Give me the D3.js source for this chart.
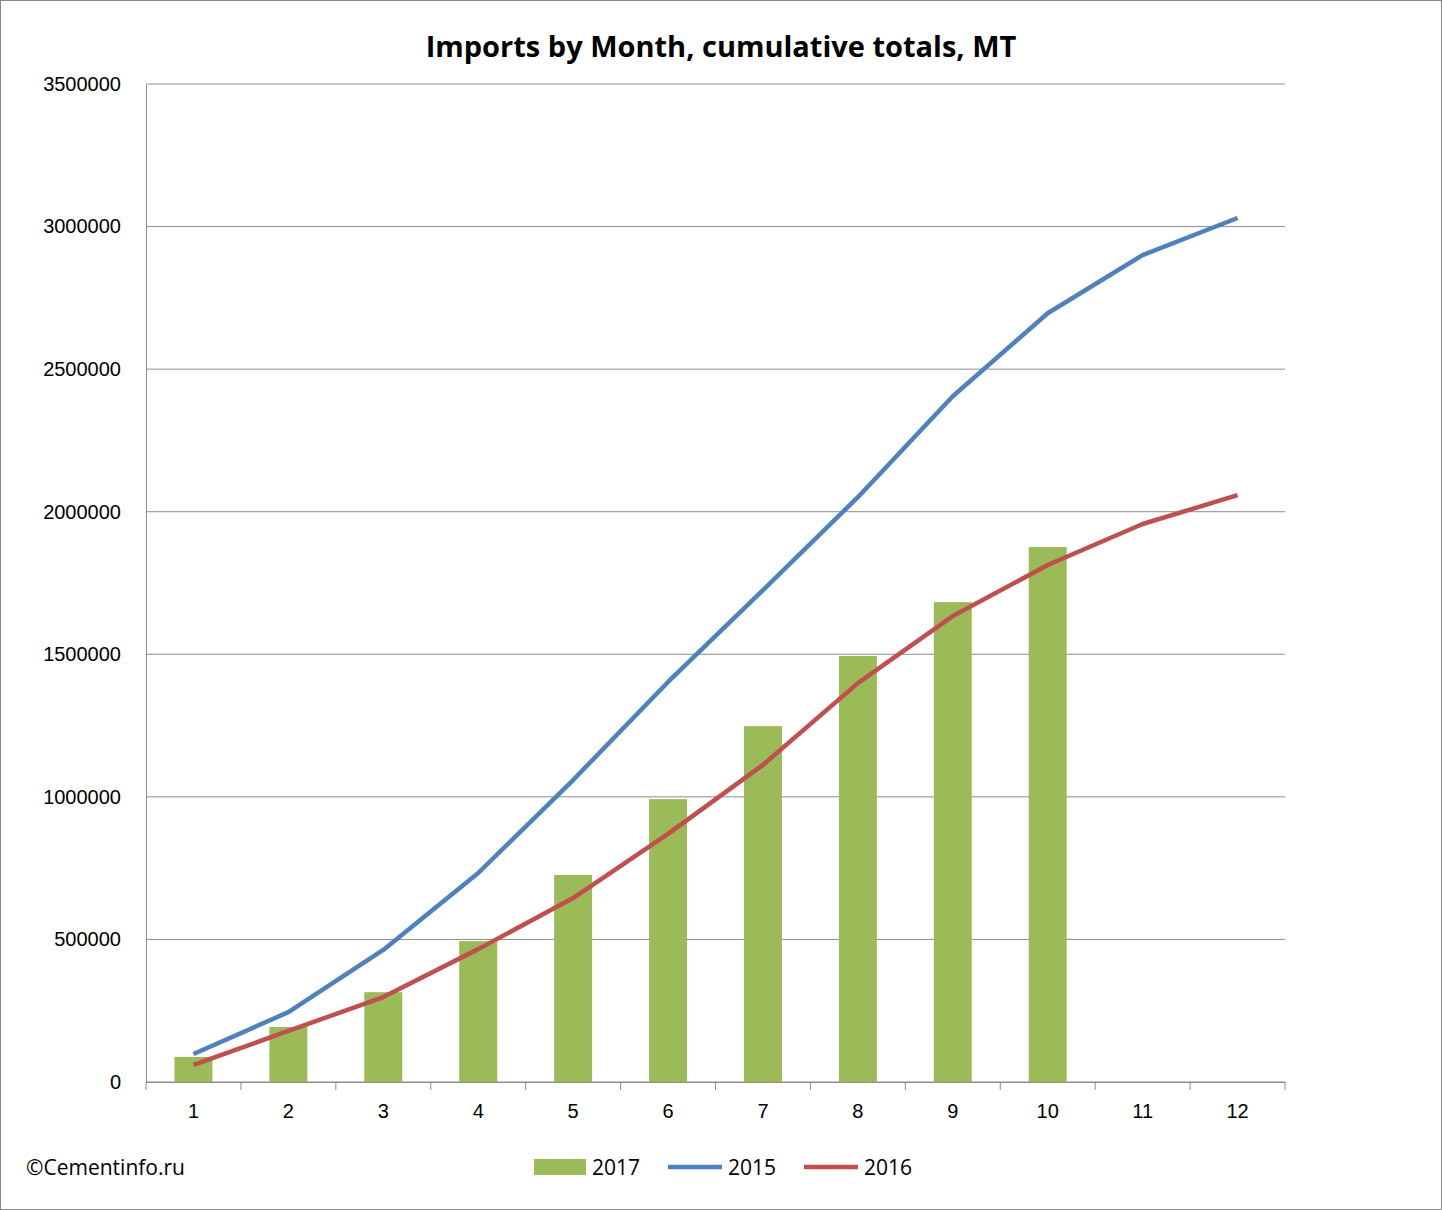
<!DOCTYPE html>
<html>
<head>
<meta charset="utf-8">
<script src="https://cdn.jsdelivr.net/npm/d3@7"></script>
<style>
  body { margin: 0; background: #fff; }
  svg { font-family: 'Open Sans', 'Liberation Sans', sans-serif; }
</style>
</head>
<body>
<svg width="1442" height="1210"></svg>
<script>
const months = ['1', '2', '3', '4', '5', '6', '7', '8', '9', '10', '11', '12']
const values2017 = [88000, 193000, 315000, 494000, 726000, 992000, 1248000, 1494000, 1683000, 1876000]
const values2015 = [98000, 245000, 463000, 733000, 1059000, 1403000, 1725000, 2051000, 2405000, 2696000, 2900000, 3030000]
const values2016 = [60000, 179000, 298000, 466000, 645000, 870000, 1112000, 1399000, 1634000, 1813000, 1957000, 2058000]
const yTicks = [0, 500000, 1000000, 1500000, 2000000, 2500000, 3000000, 3500000]

const svg = d3.select('svg')
svg.append('rect').attr('x', 0.5).attr('y', 0.5).attr('width', 1441).attr('height', 1209)
  .attr('fill', '#fff').attr('stroke', '#888')

const margin = { top: 84, right: 157, bottom: 128, left: 146 }
const width = 1442 - margin.left - margin.right
const height = 1210 - margin.top - margin.bottom

const x = d3.scaleBand().domain(months).range([0, width])
const y = d3.scaleLinear().domain([0, 3500000]).range([height, 0])
const g = svg.append('g').attr('transform', `translate(${margin.left},${margin.top})`)

// grid
g.selectAll('.grid').data(yTicks).enter().append('line')
  .attr('x1', 0).attr('x2', width).attr('y1', d => y(d)).attr('y2', d => y(d))
  .attr('stroke', '#8c8c8c').attr('stroke-width', 1)

const yAxis = g.append('g').call(d3.axisLeft(y).tickValues(yTicks).tickFormat(d3.format('d')).tickSize(0).tickPadding(25))
yAxis.select('.domain').attr('stroke', '#8c8c8c')
yAxis.selectAll('text').attr('font-size', 20).attr('fill', '#000')

const xAxis = g.append('g').attr('transform', `translate(0,${height})`)
  .call(d3.axisBottom(x).tickSize(0).tickPadding(22))
xAxis.select('.domain').attr('stroke', '#8c8c8c')
xAxis.selectAll('text').attr('font-size', 20).attr('fill', '#000')
xAxis.selectAll('.sep').data(d3.range(13)).enter().append('line')
  .attr('x1', d => d * x.step()).attr('x2', d => d * x.step())
  .attr('y1', 0).attr('y2', 8).attr('stroke', '#8c8c8c')

const bw = x.bandwidth() * 0.4
g.selectAll('.bar').data(values2017).enter().append('rect')
  .attr('x', (d, i) => x(months[i]) + (x.bandwidth() - bw) / 2)
  .attr('y', d => y(d)).attr('width', bw).attr('height', d => height - y(d))
  .attr('fill', '#9bbb59')

const line = d3.line().x((d, i) => x(months[i]) + x.bandwidth() / 2).y(d => y(d))
g.append('path').datum(values2015).attr('d', line).attr('fill', 'none')
  .attr('stroke', '#4f81bd').attr('stroke-width', 4.5).attr('stroke-linejoin', 'round')
g.append('path').datum(values2016).attr('d', line).attr('fill', 'none')
  .attr('stroke', '#c0504d').attr('stroke-width', 4.5).attr('stroke-linejoin', 'round')

svg.append('text').attr('x', 721).attr('y', 57).attr('text-anchor', 'middle')
  .attr('font-size', 29).attr('font-weight', 'bold').text('Imports by Month, cumulative totals, MT')

svg.append('text').attr('x', 26).attr('y', 1175).attr('font-size', 21).text('©Cementinfo.ru')

// legend
const lg = svg.append('g').attr('transform', 'translate(0,1167)')
lg.append('rect').attr('x', 534).attr('y', -8).attr('width', 52).attr('height', 16).attr('fill', '#9bbb59')
lg.append('text').attr('x', 592).attr('y', 8).attr('font-size', 21).text('2017')
lg.append('line').attr('x1', 668).attr('x2', 722).attr('y1', 0).attr('y2', 0).attr('stroke', '#4f81bd').attr('stroke-width', 4.5)
lg.append('text').attr('x', 728).attr('y', 8).attr('font-size', 21).text('2015')
lg.append('line').attr('x1', 804).attr('x2', 858).attr('y1', 0).attr('y2', 0).attr('stroke', '#c0504d').attr('stroke-width', 4.5)
lg.append('text').attr('x', 864).attr('y', 8).attr('font-size', 21).text('2016')
</script>
</body>
</html>
